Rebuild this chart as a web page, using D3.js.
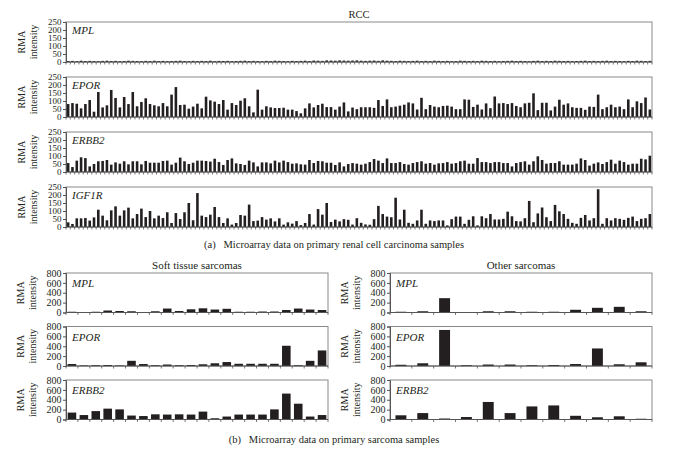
<!DOCTYPE html>
<html><head><meta charset="utf-8">
<script src="https://cdn.jsdelivr.net/npm/d3@7"></script>
<style>
body{margin:0;background:#fff}
text{font-family:"Liberation Serif","DejaVu Serif",serif;fill:#231f20}
</style>
</head><body>
<svg id="c" width="674" height="449"></svg>
<script>
// ---------- DATA ----------
const rccTitle = "RCC";
const rccGenes = ["MPL", "EPOR", "ERBB2", "IGF1R"];
const rccTicks = [0, 50, 100, 150, 200, 250];
const rccMPL = [6,7,5,8,6,7,6,5,7,8, 6,7,5,6,8,7,6,5,7,6, 8,6,7,5,6,7,8,6,5,7,
  6,7,6,8,5,7,6,7,5,6, 7,8,6,7,6,5,7,6,8,7, 6,5,7,6,7,8,6,9,8,7,
  10,9,8,10,9,8,9,10,8,7, 8,9,7,10,8,7,6,8,7,6, 7,8,6,7,6,8,7,6,7,5,
  6,8,7,6,7,6,8,7,6,7, 5,6,7,8,6,7,6,5,7,8, 6,7,6,8,7,6,7,5,6,7,
  8,6,7,6,7,8,6,7,6,5, 7,6,8,7,6,7];
const rccEPOR = [81,87,83,54,81,106,33,156,60,73, 169,119,60,125,81,156,67,94,117,81,
  73,67,87,67,140,187,75,77,52,65, 83,54,127,104,96,81,106,46,87,75,
  102,117,67,29,171,46,67,60,56,56, 58,46,46,37,23,54,85,60,75,83, 62,62,46,
  65,91,35,59,
  49,61,61,61,57,106,69,110,61,65, 71,77,91,85,47,120,49,75,65,61,
  69,71,65,49,49,110,108,63,77,47, 85,55,128,85,87,
  81,87,69,61,85,89,148,43,89,89, 41,65,108,77,85,61,57,57,45,65,
  63,140,49,61,77,61,65,49,110,61, 98,87,122,47];
const rccERBB2 = [56,31,71,92,87,35,50,67,69,75, 46,60,52,67,48,67,67,48,69,58,
  58,58,69,71,46,58,90,67,50,58, 71,71,69,65,83,62,44,75,85,54,
  50,44,71,60,35,60,60,54,71,60, 71,62,52,54,48,46,75,56,69,67, 58,58,44,
  60,35,50,56,
  52,46,52,62,81,71,56,85,56,56, 62,50,46,56,62,67,52,56,46,54,
  56,62,52,56,67,71,52,52,87,62, 62,56,62,62,56,
  56,35,56,62,67,46,67,98,75,52, 56,56,67,46,46,46,52,85,75,40,
  52,60,50,62,77,52,71,62,46,52, 52,83,79,102];
const rccIGF1R = [29,19,54,54,56,40,60,108,71,42, 104,129,71,104,121,54,81,115,62,100,
  54,71,56,92,25,87,50,92,150,42, 212,71,62,77,125,62,25,54,15,25,
  75,71,140,37,40,62,46,54,35,54, 15,29,21,37,12,25,81,15,112,77, 150,31,46,
  35,49,45,15,
  55,26,16,14,49,132,81,65,61,183, 47,108,26,20,41,108,20,41,37,41,
  41,10,49,65,65,20,45,67,10,67, 55,81,47,47,51,
  96,67,37,35,55,163,30,85,122,61, 37,138,98,81,51,26,20,57,75,41,
  55,236,20,55,41,55,51,45,57,65, 37,51,55,81];

const sarcTitles = ["Soft tissue sarcomas", "Other sarcomas"];
const sarcGenes = ["MPL", "EPOR", "ERBB2"];
const sarcTicks = [0, 200, 400, 600, 800];
const softMPL   = [15,3,15,40,30,25,10,25,80,30,65,85,60,75,15,15,20,20,50,80,60,50];
const softEPOR  = [40,10,15,20,10,105,40,15,30,15,20,35,55,80,45,45,45,45,410,15,105,315];
const softERBB2 = [140,90,170,220,205,80,70,105,100,105,100,160,25,60,100,100,100,205,525,320,60,90];
const otherMPL   = [15,25,290,10,25,25,15,15,55,95,115,25];
const otherEPOR  = [25,55,730,15,30,30,15,20,40,355,35,75];
const otherERBB2 = [85,130,20,50,355,130,265,285,75,45,65,15];

const captionA = "(a)\u2002 Microarray data on primary renal cell carcinoma samples";
const captionB = "(b)\u2002 Microarray data on primary sarcoma samples";
const yLabel = ["RMA", "intensity"];

// ---------- DRAW ----------
const svg = d3.select("#c");
const frameCol = "#8a8a8a", barCol = "#231f20";

function drawPanel(o) {
  const g = svg.append("g");
  const x = d3.scaleBand().domain(d3.range(o.values.length))
    .range([o.x0, o.x1]).paddingInner(o.pad).paddingOuter(o.pad / 2);
  const y = d3.scaleLinear().domain([0, o.max]).range([o.top + o.h, o.top]);
  g.append("rect").attr("x", o.x0).attr("y", o.top)
    .attr("width", o.x1 - o.x0).attr("height", o.h)
    .attr("fill", "none").attr("stroke", frameCol).attr("stroke-width", 1);
  g.selectAll("rect.bar").data(o.values).join("rect").attr("class", "bar")
    .attr("x", (d, i) => x(i)).attr("width", x.bandwidth())
    .attr("y", d => y(d)).attr("height", d => y(0) - y(d))
    .attr("fill", barCol);
  const step = x.step();
  const r0 = x.range()[0];
  g.selectAll("line.xt").data(d3.range(o.values.length + 1)).join("line")
    .attr("x1", i => r0 + i * step).attr("x2", i => r0 + i * step)
    .attr("y1", y(0)).attr("y2", y(0) + 2.5)
    .attr("stroke", "#555").attr("stroke-width", 0.8);
  g.append("line").attr("x1", o.x0).attr("x2", o.x1).attr("y1", y(0)).attr("y2", y(0))
    .attr("stroke", "#555").attr("stroke-width", 1);
  const ax = g.append("g").attr("transform", `translate(${o.x0},0)`)
    .call(d3.axisLeft(y).tickValues(o.ticks).tickSize(3).tickPadding(1.5));
  ax.select(".domain").attr("stroke", "#555");
  ax.selectAll(".tick line").attr("stroke", "#555");
  ax.selectAll("text").attr("font-size", o.tickFont)
    .attr("font-family", '"Liberation Serif",serif').attr("fill", "#231f20");
  g.append("text").attr("x", o.x0 + 6).attr("y", o.top + o.geneDy)
    .attr("font-style", "italic").attr("font-size", 11).text(o.gene);
  const cy = o.top + o.h / 2;
  yLabel.forEach((t, k) => {
    g.append("text").attr("transform", `translate(${o.labX + k * 12},${cy}) rotate(-90)`)
      .attr("text-anchor", "middle").attr("font-size", 10).text(t);
  });
}

const rccSeries = [rccMPL, rccEPOR, rccERBB2, rccIGF1R];
rccSeries.forEach((vals, i) => {
  drawPanel({values: vals, x0: 66, x1: 652, top: 22 + i * 55, h: 40, max: 250,
    ticks: rccTicks, pad: 0.4, gene: rccGenes[i], geneDy: 12, labX: 25, tickFont: 9});
});
svg.append("text").attr("x", 359).attr("y", 18).attr("text-anchor", "middle")
  .attr("font-size", 10.5).text(rccTitle);
svg.append("text").attr("x", 334).attr("y", 248).attr("text-anchor", "middle")
  .attr("font-size", 10.5).text(captionA);

const sarcSeries = [[softMPL, softEPOR, softERBB2], [otherMPL, otherEPOR, otherERBB2]];
const groups = [{x0: 66, x1: 328, labX: 24, pad: 0.28}, {x0: 390, x1: 652, labX: 348, pad: 0.5}];
groups.forEach((gp, j) => {
  sarcSeries[j].forEach((vals, i) => {
    drawPanel({values: vals, x0: gp.x0, x1: gp.x1, top: 273 + i * 53.5, h: 39.5, max: 800,
      ticks: sarcTicks, pad: gp.pad, gene: sarcGenes[i], geneDy: 14, labX: gp.labX, tickFont: 10});
  });
  svg.append("text").attr("x", (gp.x0 + gp.x1) / 2).attr("y", 269).attr("text-anchor", "middle")
    .attr("font-size", 11).text(sarcTitles[j]);
});
svg.append("text").attr("x", 334).attr("y", 443).attr("text-anchor", "middle")
  .attr("font-size", 10.5).text(captionB);
</script>
</body></html>
